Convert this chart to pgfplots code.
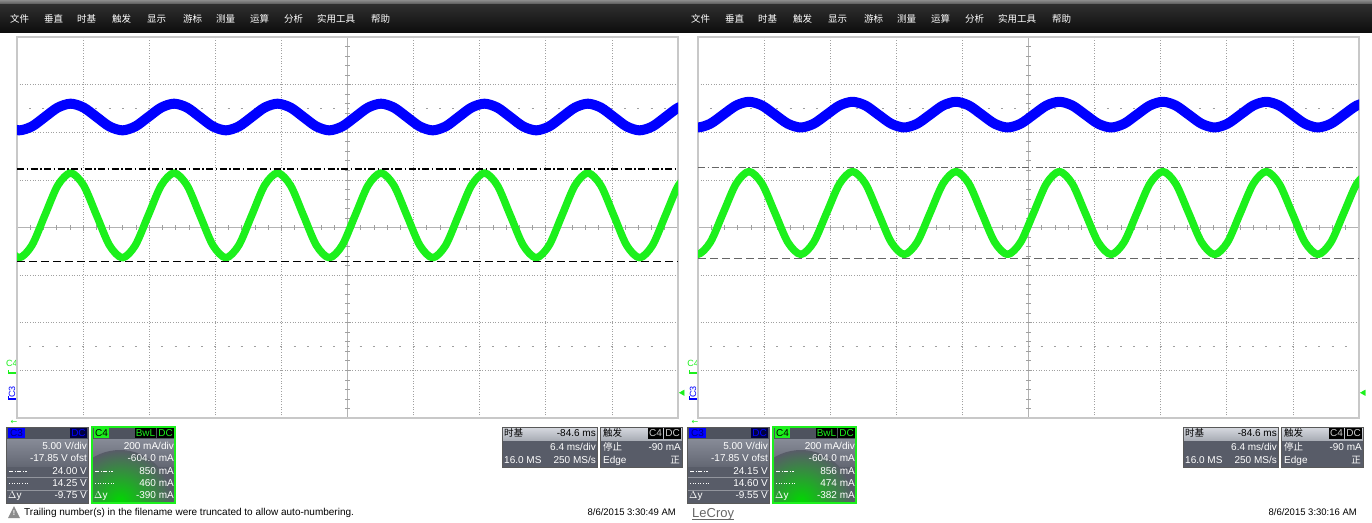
\documentclass[border=0pt]{standalone}
\usepackage{pgfplots}
\pgfplotsset{compat=1.18}
\usepackage{pgfplotstable}
\usepackage{fontspec}
\setmainfont{Liberation Sans}
\newfontfamily\cjk{Noto Sans CJK SC}
\newfontfamily\dejavu{DejaVu Sans}

\definecolor{tblue}{RGB}{0,0,255}
\definecolor{tgreen}{RGB}{28,240,28}
\definecolor{gridc}{RGB}{160,160,160}
\definecolor{framec}{RGB}{200,200,200}
\definecolor{boxbg}{RGB}{100,104,116}
\definecolor{boxhd}{RGB}{78,82,94}
\definecolor{boxup}{RGB}{135,139,151}
\definecolor{boxlo}{RGB}{88,92,104}
\definecolor{hdlight}{RGB}{215,218,225}
\definecolor{hddark}{RGB}{170,174,182}

\pgfplotstableread{
x g b
-0.166 -0.374 2.122
0.030 -0.635 2.040
0.226 -0.374 2.122
0.421 0.255 2.320
0.617 0.884 2.518
0.812 1.145 2.600
1.008 0.884 2.518
1.204 0.255 2.320
1.399 -0.374 2.122
1.595 -0.635 2.040
1.790 -0.374 2.122
1.986 0.255 2.320
2.182 0.884 2.518
2.377 1.145 2.600
2.573 0.884 2.518
2.768 0.255 2.320
2.964 -0.374 2.122
3.160 -0.635 2.040
3.355 -0.374 2.122
3.551 0.255 2.320
3.746 0.884 2.518
3.942 1.145 2.600
4.138 0.884 2.518
4.333 0.255 2.320
4.529 -0.374 2.122
4.724 -0.635 2.040
4.920 -0.374 2.122
5.116 0.255 2.320
5.311 0.884 2.518
5.507 1.145 2.600
5.702 0.884 2.518
5.898 0.255 2.320
6.094 -0.374 2.122
6.289 -0.635 2.040
6.485 -0.374 2.122
6.680 0.255 2.320
6.876 0.884 2.518
7.072 1.145 2.600
7.267 0.884 2.518
7.463 0.255 2.320
7.658 -0.374 2.122
7.854 -0.635 2.040
8.050 -0.374 2.122
8.245 0.255 2.320
8.441 0.884 2.518
8.636 1.145 2.600
8.832 0.884 2.518
9.028 0.255 2.320
9.223 -0.374 2.122
9.419 -0.635 2.040
9.614 -0.374 2.122
9.810 0.255 2.320
10.006 0.884 2.518
10.201 1.145 2.600
}\leftdata

\pgfplotstableread{
x g b
-0.206 -0.310 2.179
-0.010 -0.565 2.100
0.186 -0.310 2.179
0.381 0.305 2.370
0.577 0.920 2.561
0.772 1.175 2.640
0.968 0.920 2.561
1.164 0.305 2.370
1.359 -0.310 2.179
1.555 -0.565 2.100
1.750 -0.310 2.179
1.946 0.305 2.370
2.142 0.920 2.561
2.337 1.175 2.640
2.533 0.920 2.561
2.728 0.305 2.370
2.924 -0.310 2.179
3.120 -0.565 2.100
3.315 -0.310 2.179
3.511 0.305 2.370
3.706 0.920 2.561
3.902 1.175 2.640
4.098 0.920 2.561
4.293 0.305 2.370
4.489 -0.310 2.179
4.684 -0.565 2.100
4.880 -0.310 2.179
5.076 0.305 2.370
5.271 0.920 2.561
5.467 1.175 2.640
5.662 0.920 2.561
5.858 0.305 2.370
6.054 -0.310 2.179
6.249 -0.565 2.100
6.445 -0.310 2.179
6.640 0.305 2.370
6.836 0.920 2.561
7.032 1.175 2.640
7.227 0.920 2.561
7.423 0.305 2.370
7.618 -0.310 2.179
7.814 -0.565 2.100
8.010 -0.310 2.179
8.205 0.305 2.370
8.401 0.920 2.561
8.596 1.175 2.640
8.792 0.920 2.561
8.988 0.305 2.370
9.183 -0.310 2.179
9.379 -0.565 2.100
9.574 -0.310 2.179
9.770 0.305 2.370
9.966 0.920 2.561
10.161 1.175 2.640
}\rightdata

\pgfplotsset{osc/.style={
  scale only axis, width=661pt, height=381pt, anchor=south west,
  xmin=0, xmax=10, ymin=-4, ymax=4,
  xtick={1,2,3,4,6,7,8,9}, ytick={-3,-2,-1,1,2,3},
  xticklabels={}, yticklabels={}, major tick length=0pt,
  grid=major,
  major grid style={draw=gridc, line width=0.7pt, dash pattern=on 1pt off 1.6pt},
  axis line style={draw=framec, line width=2pt},
}}
\pgfplotsset{trig/.style={
  scale only axis, width=661pt, height=381pt, anchor=south west,
  xmin=0, xmax=10, ymin=-4, ymax=4, hide axis, clip=false,
}}

\tikzset{lbl/.style={inner sep=0pt, text height=7pt, text depth=0pt, font=\fontsize{10}{12}\selectfont},
  menu/.style={inner sep=0pt, anchor=west, text=white, font=\cjk\fontsize{9.5}{11}\selectfont}}

% decorations of one screen (grid cross, ticks)
\newcommand{\screendeco}[1]{%
\begin{scope}[xshift=#1pt]
  \draw[gridc!80, line width=0.9pt] (17,294.5) -- (678,294.5);
  \draw[gridc!80, line width=0.9pt] (347.5,104) -- (347.5,485);
  \foreach \k in {1,...,49} {
    \draw[gridc, line width=0.7pt] ({17+\k*13.22},292) -- ++(0,5);
    \draw[gridc, line width=0.8pt] ({17+\k*13.22-1},413.6) -- ++(2,0);
    \draw[gridc, line width=0.8pt] ({17+\k*13.22-1},175.4) -- ++(2,0);
  }
  \foreach \k in {1,...,39} {
    \draw[gridc, line width=0.7pt] (345,{104+\k*9.525}) -- ++(5,0);
  }
  % channel labels at left
  \node[inner sep=0pt, font=\fontsize{9}{10}\selectfont, text=tgreen, anchor=base] at (12,155) {C4};
  \draw[tgreen, line width=1.8pt] (8,149.3) -- (17,149.3);
  \draw[tgreen, line width=1pt] (8.5,149.3) -- (8.5,152);
  \node[inner sep=0pt, font=\fontsize{9}{10}\selectfont, text=tblue, rotate=90] at (12,130) {C3};
  \draw[tblue, line width=1.8pt] (8,123) -- (17,123);
  \draw[tblue, line width=1pt] (8.5,123) -- (8.5,125.7);
  \node[inner sep=0pt, text=tgreen, font=\dejavu\fontsize{8}{9}\selectfont] at (14,99.5) {←};
\end{scope}}

% info boxes of one screen
\newcommand{\infoboxes}[8]{%
\begin{scope}[xshift=#1pt]
  % ---- C3 box
  \fill[boxlo] (6,19) rectangle (88,95);
  \shade[top color=boxup, bottom color=boxbg] (6,56) rectangle (88,83);
  \fill[boxhd] (6,83) rectangle (88,95);
  \draw[white!35!boxlo, line width=0.5pt] (6,44.5) -- (88,44.5) (6,31.5) -- (88,31.5);
  \draw[black!65, line width=1pt] (6,19) rectangle (88,95);
  \fill[tblue] (8,84) rectangle (25,94);
  \node[lbl, text=black!55!blue] at (16.5,88.5) {C3};
  \fill[blue!25!black] (70,84) rectangle (87,94);
  \node[lbl, text=tblue] at (78.5,88.5) {DC};
  \node[lbl, anchor=south east, text=white] at (87,72) {5.00 V/div};
  \node[lbl, anchor=south east, text=white] at (87,60) {-17.85 V ofst};
  \node[lbl, anchor=south east, text=white] at (87,47) {#2};
  \node[lbl, anchor=south east, text=white] at (87,35) {#3};
  \node[lbl, anchor=south east, text=white] at (87,23) {#4};
  \draw[white, line width=0.8pt, dash pattern=on 4pt off 1.5pt on 1pt off 1.5pt] (9,51) -- (27,51);
  \draw[white, line width=0.8pt, dash pattern=on 1pt off 1.6pt] (9,38.5) -- (28,38.5);
  \node[lbl, anchor=south west, text=white] at (8,23) {$\Delta$y};
  % ---- C4 box
  \fill[boxlo] (92,19) rectangle (175,95);
  \begin{scope}
    \clip (92,19) rectangle (175,83);
    \shade[top color=boxup, bottom color=boxbg] (92,56) rectangle (175,83);
    \shade[inner color=green!85!black, outer color=boxlo] (120,20) circle (52);
  \end{scope}
  \fill[boxhd] (92,83) rectangle (175,95);
  \draw[tgreen, line width=1.4pt] (92,19) rectangle (175,95);
  \fill[tgreen] (94,84) rectangle (109,94);
  \node[lbl, text=black] at (101.5,88.5) {C4};
  \fill[black] (135,84) rectangle (156,94);
  \node[lbl, text=tgreen] at (145.5,88.5) {BwL};
  \fill[black] (157,84) rectangle (174,94);
  \node[lbl, text=tgreen] at (165.5,88.5) {DC};
  \node[lbl, anchor=south east, text=white] at (174,72) {200 mA/div};
  \node[lbl, anchor=south east, text=white] at (174,60) {-604.0 mA};
  \node[lbl, anchor=south east, text=white] at (174,47) {#5};
  \node[lbl, anchor=south east, text=white] at (174,35) {#6};
  \node[lbl, anchor=south east, text=white] at (174,23) {#7};
  \draw[white, line width=0.8pt, dash pattern=on 4pt off 1.5pt on 1pt off 1.5pt] (95,51) -- (113,51);
  \draw[white, line width=0.8pt, dash pattern=on 1pt off 1.6pt] (95,38.5) -- (114,38.5);
  \node[lbl, anchor=south west, text=white] at (94,23) {$\Delta$y};
  % ---- timebase box
  \fill[boxlo] (502,55) rectangle (597,95);
  \shade[top color=hdlight, bottom color=hddark] (502,82) rectangle (597,95);
  \draw[black!65, line width=1pt] (502,55) rectangle (597,95);
  \node[lbl, anchor=south west, text=black, font=\cjk\fontsize{9.5}{11}\selectfont] at (504,85) {时基};
  \node[lbl, anchor=south east, text=black] at (596,85) {-84.6 ms};
  \node[lbl, anchor=south east, text=white] at (596,71) {6.4 ms/div};
  \node[lbl, anchor=south west, text=white] at (504,58) {16.0 MS};
  \node[lbl, anchor=south east, text=white] at (596,58) {250 MS/s};
  % ---- trigger box
  \fill[boxlo] (600,55) rectangle (682,95);
  \shade[top color=hdlight, bottom color=hddark] (600,82) rectangle (682,95);
  \draw[black!65, line width=1pt] (600,55) rectangle (682,95);
  \node[lbl, anchor=south west, text=black, font=\cjk\fontsize{9.5}{11}\selectfont] at (603,85) {触发};
  \fill[black] (648,83.5) rectangle (663,94);
  \node[lbl, text=white!80!black] at (655.5,88.5) {C4};
  \fill[black] (664,83.5) rectangle (681,94);
  \node[lbl, text=white!80!black] at (672.5,88.5) {DC};
  \node[lbl, anchor=south west, text=white, font=\cjk\fontsize{9.5}{11}\selectfont] at (603,71) {停止};
  \node[lbl, anchor=south east, text=white] at (681,71) {-90 mA};
  \node[lbl, anchor=south west, text=white] at (603,58) {Edge};
  \node[lbl, anchor=south east, text=white, font=\cjk\fontsize{9.5}{11}\selectfont] at (680,58) {正};
  % ---- date
  \node[lbl, anchor=south east, text=black, font=\fontsize{9.5}{11}\selectfont] at (676,6.5) {#8};
\end{scope}}

\begin{document}
\begin{tikzpicture}[x=1pt,y=1pt]
  \fill[white] (0,0) rectangle (1372,522);
  \path[use as bounding box] (0,0) rectangle (1372,522);
  % menu bar
  \shade[top color=black!45, bottom color=black!70] (0,517) rectangle (1372,522);
  \shade[top color=black!82, bottom color=black!95] (0,489.5) rectangle (1372,517);
  \foreach \o in {0,681} {
    \begin{scope}[xshift=\o pt]
      \node[menu] at (10,503) {文件};
      \node[menu] at (44,503) {垂直};
      \node[menu] at (77,503) {时基};
      \node[menu] at (112,503) {触发};
      \node[menu] at (147,503) {显示};
      \node[menu] at (183,503) {游标};
      \node[menu] at (216,503) {测量};
      \node[menu] at (250,503) {运算};
      \node[menu] at (284,503) {分析};
      \node[menu] at (317,503) {实用工具};
      \node[menu] at (371,503) {帮助};
    \end{scope}
  }
  \screendeco{0}
  \screendeco{681}

  % ---- left screen
  \begin{axis}[osc, at={(17pt,104pt)}]
    \addplot[tblue, line width=10pt, smooth, line join=round] table[x=x, y=b] {\leftdata};
    \addplot[tgreen, line width=7.5pt, smooth, line join=round] table[x=x, y=g] {\leftdata};
    \addplot[black, line width=1.2pt, dash pattern=on 7pt off 2.5pt on 1.5pt off 2.5pt] coordinates {(0,1.23) (10,1.23)};
    \addplot[black, line width=1.2pt, dash pattern=on 8pt off 4pt] coordinates {(0,-0.72) (10,-0.72)};
  \end{axis}
  \begin{axis}[trig, at={(17pt,104pt)}]
    \addplot[only marks, mark=triangle*, mark size=3.2pt, color=tgreen, mark options={rotate=90}] coordinates {(10.07,-3.47)};
  \end{axis}

  % ---- right screen
  \begin{axis}[osc, at={(698pt,104pt)}]
    \addplot[tblue, line width=10pt, smooth, line join=round] table[x=x, y=b] {\rightdata};
    \addplot[tgreen, line width=7.5pt, smooth, line join=round] table[x=x, y=g] {\rightdata};
    \addplot[black!60, line width=1.4pt, dash pattern=on 7pt off 2.5pt on 1.5pt off 2.5pt] coordinates {(0,1.26) (10,1.26)};
    \addplot[black!60, line width=1.4pt, dash pattern=on 8pt off 4pt] coordinates {(0,-0.65) (10,-0.65)};
  \end{axis}
  \begin{axis}[trig, at={(698pt,104pt)}]
    \addplot[only marks, mark=triangle*, mark size=3.2pt, color=tgreen, mark options={rotate=90}] coordinates {(10.07,-3.47)};
  \end{axis}

  \infoboxes{0}{24.00 V}{14.25 V}{-9.75 V}{850 mA}{460 mA}{-390 mA}{8/6/2015 3:30:49 AM}
  \infoboxes{681}{24.15 V}{14.60 V}{-9.55 V}{856 mA}{474 mA}{-382 mA}{8/6/2015 3:30:16 AM}

  % bottom texts
  \fill[black!45] (8,4) -- (20,4) -- (14,16) -- cycle;
  \node[inner sep=0pt, font=\fontsize{7}{8}\selectfont\bfseries, text=white] at (14,8.5) {!};
  \node[lbl, anchor=south west, text=black] at (24,6.5) {Trailing number(s) in the filename were truncated to allow auto-numbering.};
  \node[inner sep=0pt, anchor=base west, text=black!60, font=\fontsize{13}{14}\selectfont] (lc) at (692,5) {LeCroy};
  \draw[black!60, line width=0.8pt] (692,2.5) -- (lc.base east |- 0,2.5);
\end{tikzpicture}
\end{document}
